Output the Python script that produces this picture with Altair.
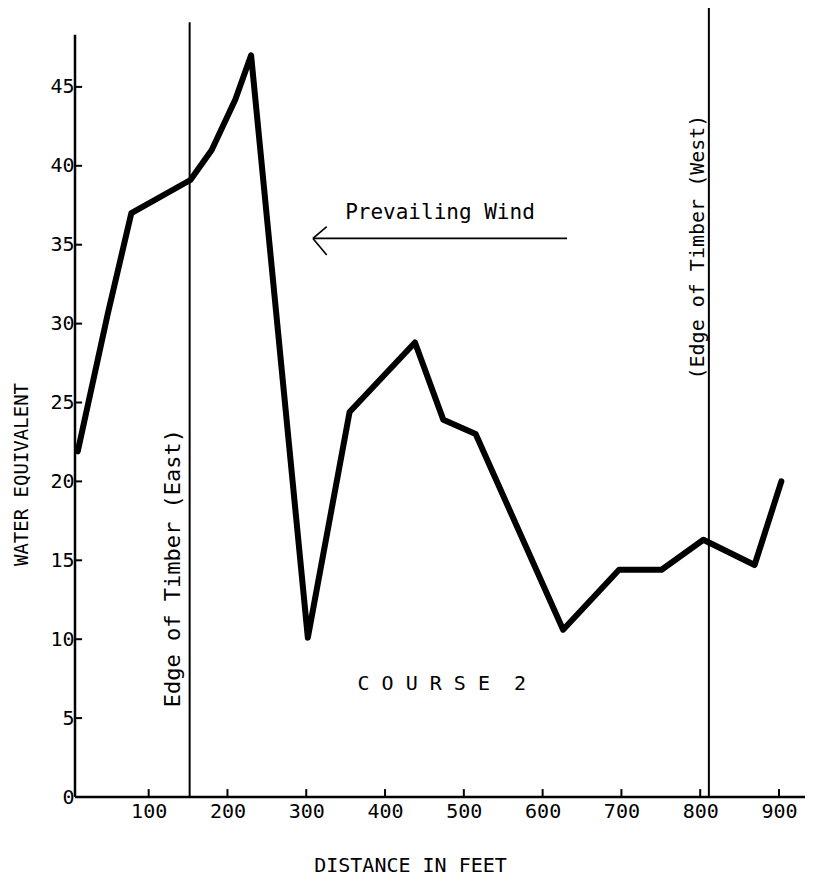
import altair as alt
import pandas as pd

# ---- data ----
distance = [10, 48, 78, 153, 180, 210, 230, 302, 355, 438, 474, 515, 626, 697, 751, 804, 869, 903]
water = [21.9, 30.6, 37.0, 39.1, 41.0, 44.2, 47.0, 10.1, 24.4, 28.8, 23.9, 23.0, 10.6, 14.4, 14.4, 16.3, 14.7, 20.0]

x_tick_values = [100, 200, 300, 400, 500, 600, 700, 800, 900]
y_tick_values = [5, 10, 15, 20, 25, 30, 35, 40, 45]
y_label_values = [0, 5, 10, 15, 20, 25, 30, 35, 40, 45]

timber_edge_x = [152, 811]
timber_edge_top = [49.1, 50.0]

x_min, x_max = 6.5, 933
y_min, y_max = 0, 50
y_axis_top = 48.3

FONT = "DejaVu Sans Mono"

xs = alt.Scale(domain=[x_min, x_max], nice=False, zero=False)
ys = alt.Scale(domain=[y_min, y_max], nice=False, zero=False)

x_axis = alt.Axis(
    values=x_tick_values, title="DISTANCE IN FEET", domain=False, ticks=False,
    grid=False, labelFont=FONT, labelFontSize=20, labelColor="black",
    labelPadding=14, labelBaseline="middle", labelFlush=False,
    titleFont=FONT, titleFontSize=20, titleFontWeight="normal", titleColor="black",
    titleX=335, titleY=68, titleBaseline="middle", titleAlign="center")
y_axis = alt.Axis(
    values=y_label_values, title="WATER EQUIVALENT", domain=False, ticks=False,
    grid=False, labelFont=FONT, labelFontSize=20, labelColor="black",
    labelPadding=1, labelBaseline="middle", labelFlush=False,
    titleFont=FONT, titleFontSize=19, titleFontWeight="normal", titleColor="black",
    titleAngle=270, titleX=-54, titleY=466, titleBaseline="middle", titleAlign="center")


def X(field):
    return alt.X(field, scale=xs, axis=x_axis)


def Y(field):
    return alt.Y(field, scale=ys, axis=y_axis)


df_line = pd.DataFrame({"d": distance, "w": water})
line = alt.Chart(df_line).mark_line(
    color="black", strokeWidth=6, strokeJoin="round", strokeCap="round"
).encode(x=X("d:Q"), y=Y("w:Q"))

# axis lines
df_yaxis = pd.DataFrame({"x": [x_min], "y": [0], "y2": [y_axis_top]})
yaxis_line = alt.Chart(df_yaxis).mark_rule(color="black", strokeWidth=2.5).encode(
    x=X("x:Q"), y=Y("y:Q"), y2="y2:Q")
df_xaxis = pd.DataFrame({"x": [x_min], "x2": [x_max], "y": [0]})
xaxis_line = alt.Chart(df_xaxis).mark_rule(color="black", strokeWidth=2.5).encode(
    x=X("x:Q"), x2="x2:Q", y=Y("y:Q"))

# inward ticks
df_xt = pd.DataFrame({"x": x_tick_values, "y": [0] * len(x_tick_values), "y2": [0.5] * len(x_tick_values)})
xticks = alt.Chart(df_xt).mark_rule(color="black", strokeWidth=2).encode(
    x=X("x:Q"), y=Y("y:Q"), y2="y2:Q")
df_yt = pd.DataFrame({"x": [x_min] * len(y_tick_values), "x2": [x_min + 9] * len(y_tick_values), "y": y_tick_values})
yticks = alt.Chart(df_yt).mark_rule(color="black", strokeWidth=2).encode(
    x=X("x:Q"), x2="x2:Q", y=Y("y:Q"))

# timber edges
df_edges = pd.DataFrame({"x": timber_edge_x, "y": [0, 0], "y2": timber_edge_top})
edges = alt.Chart(df_edges).mark_rule(color="black", strokeWidth=2).encode(
    x=X("x:Q"), y=Y("y:Q"), y2="y2:Q")

# prevailing wind arrow
arrow_x1, arrow_x2, arrow_y = 308.5, 631, 35.4
df_arrow = pd.DataFrame({
    "x": [arrow_x1, arrow_x1, arrow_x1],
    "x2": [arrow_x2, arrow_x1 + 17.5, arrow_x1 + 17.5],
    "y": [arrow_y, arrow_y, arrow_y],
    "y2": [arrow_y, arrow_y + 0.75, arrow_y - 1.05],
})
arrow = alt.Chart(df_arrow).mark_rule(color="black", strokeWidth=1.6).encode(
    x=X("x:Q"), x2="x2:Q", y=Y("y:Q"), y2="y2:Q")

# annotation texts
NB = "\u00a0"
df_wind = pd.DataFrame({"x": [469.7], "y": [37.0], "t": ["Prevailing Wind"]})
wind_text = alt.Chart(df_wind).mark_text(font=FONT, fontSize=21, color="black", align="center", baseline="middle").encode(
    x=X("x:Q"), y=Y("y:Q"), text="t:N")

course_label = NB.join(["C", "O", "U", "R", "S", "E", NB + "2"])
df_course = pd.DataFrame({"x": [472], "y": [7.15], "t": [course_label]})
course_text = alt.Chart(df_course).mark_text(font=FONT, fontSize=20, color="black", align="center", baseline="middle").encode(
    x=X("x:Q"), y=Y("y:Q"), text="t:N")

df_east = pd.DataFrame({"x": [130.9], "y": [14.5], "t": ["Edge of Timber (East)"]})
east_label = alt.Chart(df_east).mark_text(font=FONT, fontSize=22, color="black", align="center",
                                          baseline="middle", angle=270).encode(
    x=X("x:Q"), y=Y("y:Q"), text="t:N")
df_west = pd.DataFrame({"x": [797], "y": [34.85], "t": ["(Edge of Timber (West)"]})
west_label = alt.Chart(df_west).mark_text(font=FONT, fontSize=20, color="black", align="center",
                                          baseline="middle", angle=270).encode(
    x=X("x:Q"), y=Y("y:Q"), text="t:N")

chart = alt.layer(
    line, edges, yaxis_line, xaxis_line, xticks, yticks, arrow, wind_text, course_text,
    east_label, west_label
).properties(
    width=730, height=789,
    autosize=alt.AutoSizeParams(type="none"),
    padding={"left": 67, "top": 0, "right": 0, "bottom": 82},
    background="white",
).configure_view(stroke=None)

chart.save("out.html", embed_options={"renderer": "svg", "actions": False})
